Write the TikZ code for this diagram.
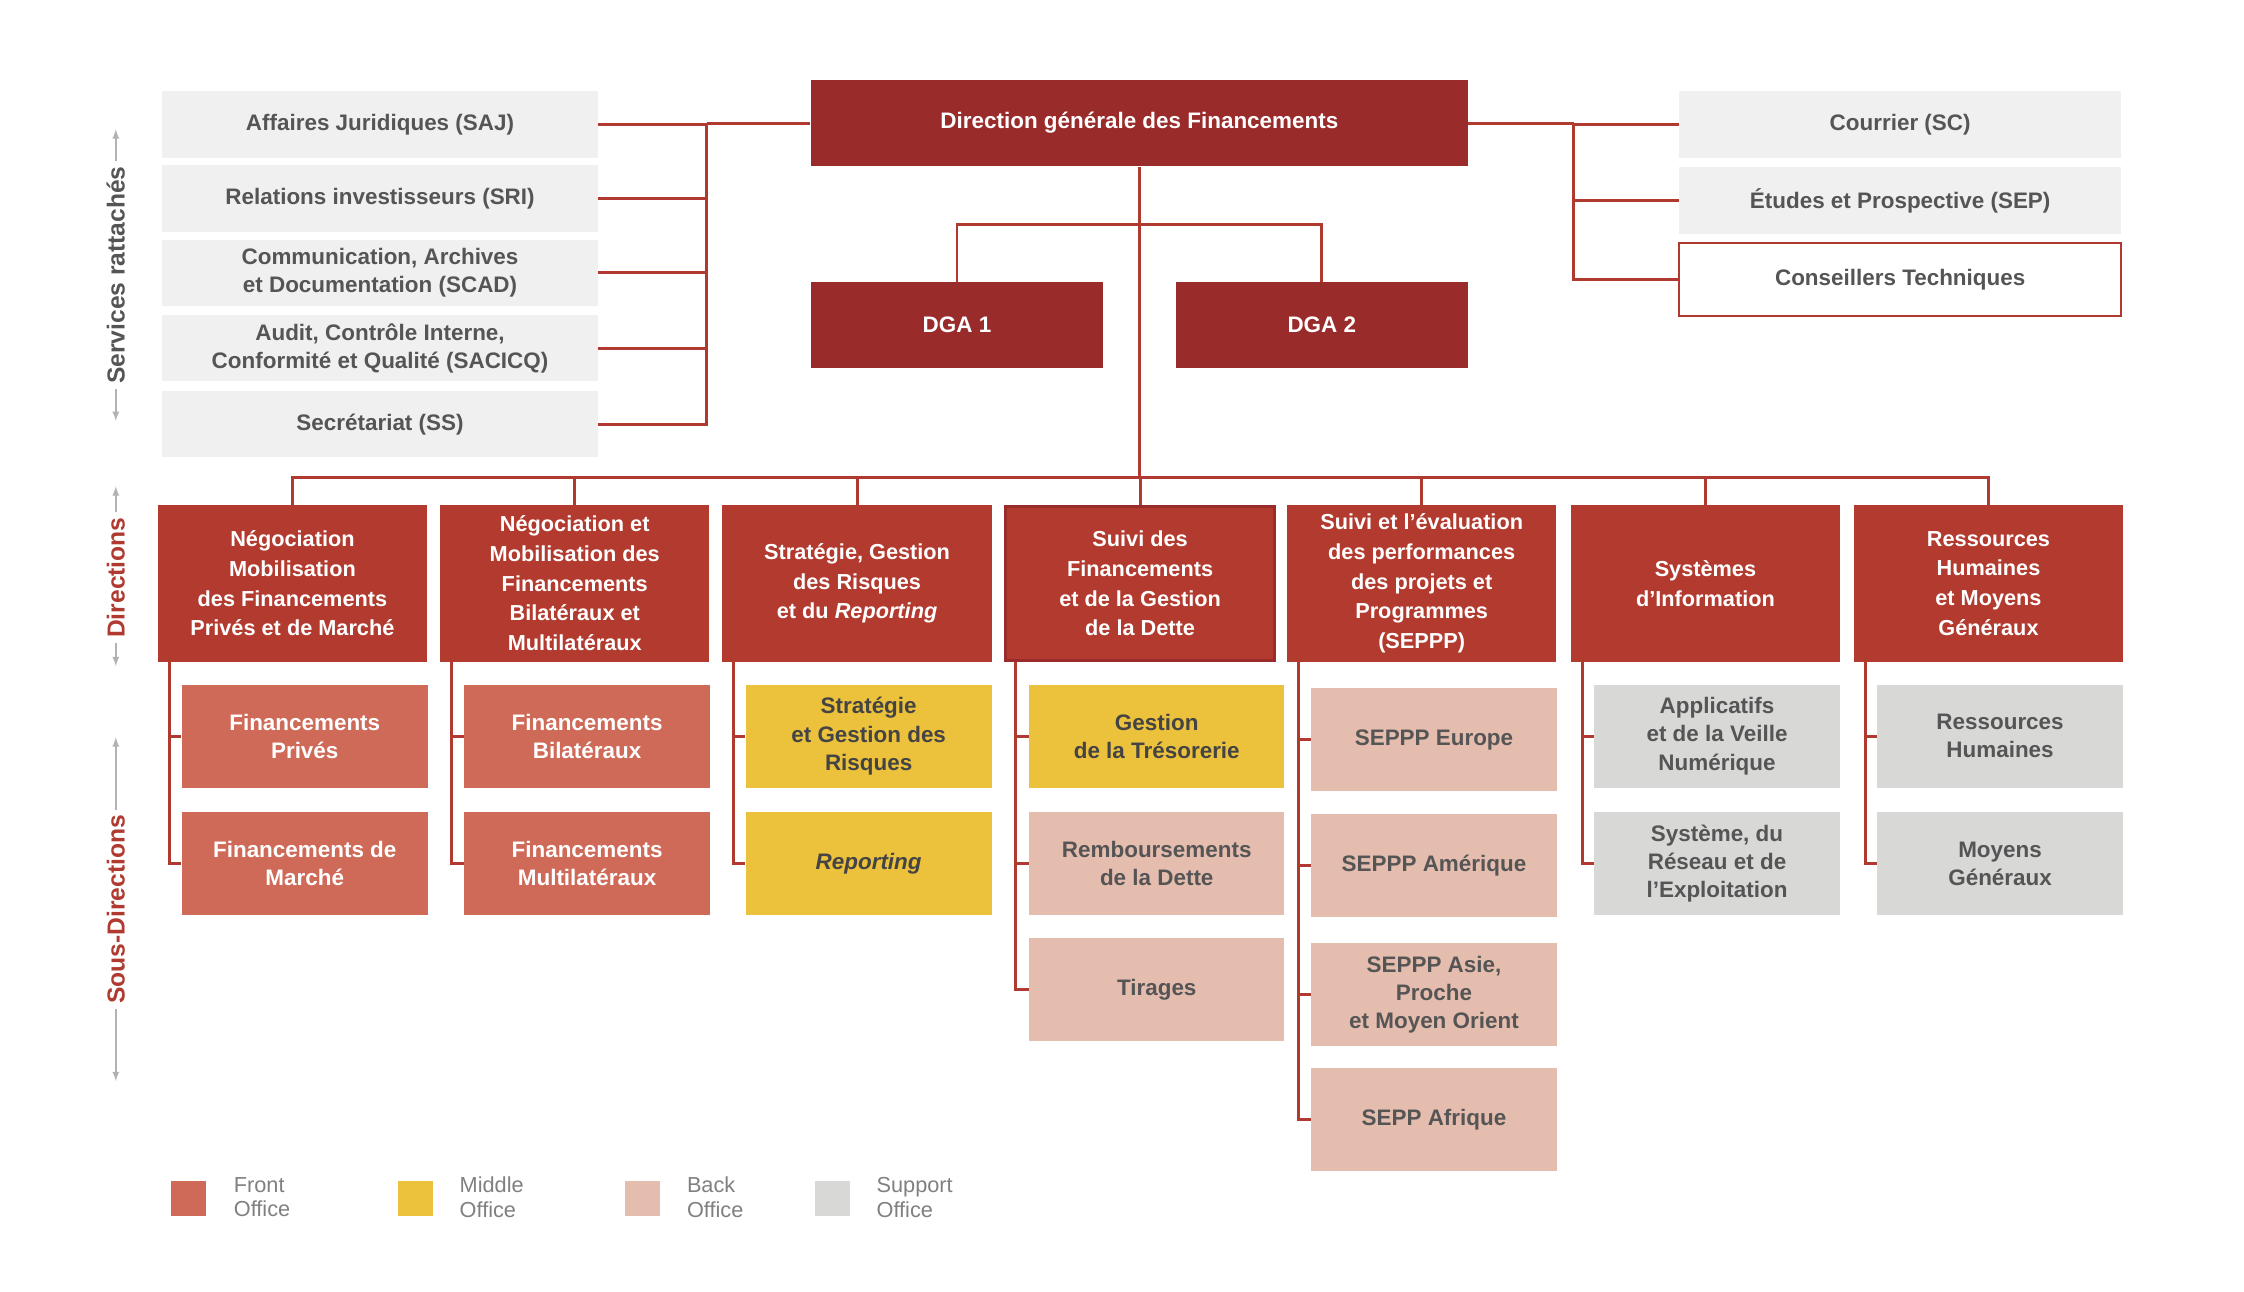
\documentclass[tikz,border=0pt]{standalone}
\usepackage{fontspec}
\setmainfont{Liberation Sans}
\begin{document}
\definecolor{dg}{HTML}{9A2B2B}
\definecolor{dir}{HTML}{B23A2E}
\definecolor{front}{HTML}{D06A58}
\definecolor{mid}{HTML}{ECC13C}
\definecolor{back}{HTML}{E5BDAE}
\definecolor{supp}{HTML}{D8D8D7}
\definecolor{serv}{HTML}{F0F0F0}
\definecolor{txt}{HTML}{555555}
\definecolor{ln}{HTML}{B03A30}
\begin{tikzpicture}[x=1pt,y=-1pt,
  box/.style={draw=none,minimum width=#1,inner sep=1pt,align=center,font=\fontsize{15.5}{19.5}\selectfont\bfseries},
  top/.style={box=454pt,minimum height=60pt,fill=dg,text=white},
  dga/.style={box=202pt,minimum height=59pt,fill=dg,text=white},
  sv/.style={box=301pt,minimum height=46pt,fill=serv,text=txt},
  rs/.style={box=305pt,minimum height=46pt,fill=serv,text=txt},
  dr/.style={box=186pt,minimum height=108pt,fill=dir,text=white,font=\fontsize{15}{20.5}\selectfont\bfseries},
  fo/.style={box=170pt,minimum height=71pt,fill=front,text=white},
  mo/.style={box=170pt,minimum height=71pt,fill=mid,text=txt!80!black},
  bo/.style={box=170pt,minimum height=71pt,fill=back,text=txt},
  so/.style={box=170pt,minimum height=71pt,fill=supp,text=txt},
  cn/.style={draw=ln,line width=2pt},
  ar/.style={draw=gray!60,line width=1.2pt,-latex},
  side/.style={rotate=90,font=\fontsize{17}{20}\selectfont\bfseries},
  lg/.style={anchor=west,align=left,text=gray,font=\fontsize{15}{17}\selectfont}]
\useasboundingbox (0,0) rectangle (1550,892);
\fill[white] (0,0) rectangle (1550,892);
% top
\node[top] (dg) at (787,85) {Direction générale des Financements};
\node[dga] (dga1) at (661,224.5) {DGA 1};
\node[dga] (dga2) at (913,224.5) {DGA 2};
% services
\node[sv] (saj) at (262.5,86) {Affaires Juridiques (SAJ)};
\node[sv] (sri) at (262.5,137) {Relations investisseurs (SRI)};
\node[sv] (scad) at (262.5,188.5) {Communication, Archives\\et Documentation (SCAD)};
\node[sv] (sac) at (262.5,240.5) {Audit, Contrôle Interne,\\Conformité et Qualité (SACICQ)};
\node[sv] (ss) at (262.5,293) {Secrétariat (SS)};
\node[rs] (sc) at (1312.5,86) {Courrier (SC)};
\node[rs] (sep) at (1312.5,138.5) {Études et Prospective (SEP)};
\node[rs,fill=white,draw=ln,line width=1.5pt,minimum height=50pt] (ct) at (1312.5,193) {Conseillers Techniques};
% directions
\node[dr] (d1) at (202,403) {Négociation\\Mobilisation\\des Financements\\Privés et de Marché};
\node[dr] (d2) at (397,403) {Négociation et\\Mobilisation des\\Financements\\Bilatéraux et\\Multilatéraux};
\node[dr] (d3) at (592,403) {Stratégie, Gestion\\des Risques\\et du \textit{Reporting}};
\node[dr,draw=dg,line width=2pt,minimum width=186pt,minimum height=106pt] (d4) at (787.5,403) {Suivi des\\Financements\\et de la Gestion\\de la Dette};
\node[dr] (d5) at (982,403) {Suivi et l'évaluation\\des performances\\des projets et\\Programmes\\(SEPPP)};
\node[dr] (d6) at (1178,403) {Systèmes\\d'Information};
\node[dr] (d7) at (1373.5,403) {Ressources\\Humaines\\et Moyens\\Généraux};
% sub-directions
\node[fo] (s11) at (210.5,508.5) {Financements\\Privés};
\node[fo] (s12) at (210.5,596.5) {Financements de\\Marché};
\node[fo] (s21) at (405.5,508.5) {Financements\\Bilatéraux};
\node[fo] (s22) at (405.5,596.5) {Financements\\Multilatéraux};
\node[mo] (s31) at (600,508.5) {Stratégie\\et Gestion des\\Risques};
\node[mo] (s32) at (600,596.5) {\textit{Reporting}};
\node[mo,minimum width=176pt] (s41) at (799,508.5) {Gestion\\de la Trésorerie};
\node[bo,minimum width=176pt] (s42) at (799,596.5) {Remboursements\\de la Dette};
\node[bo,minimum width=176pt] (s43) at (799,683.5) {Tirages};
\node[bo] (s51) at (990.5,511) {SEPPP Europe};
\node[bo] (s52) at (990.5,598) {SEPPP Amérique};
\node[bo] (s53) at (990.5,687) {SEPPP Asie,\\Proche\\et Moyen Orient};
\node[bo] (s54) at (990.5,773.5) {SEPP Afrique};
\node[so] (s61) at (1186,508.5) {Applicatifs\\et de la Veille\\Numérique};
\node[so] (s62) at (1186,596.5) {Système, du\\Réseau et de\\l'Exploitation};
\node[so] (s71) at (1381.5,508.5) {Ressources\\Humaines};
\node[so] (s72) at (1381.5,596.5) {Moyens\\Généraux};
% connectors
\coordinate (lb) at (488,85);
\coordinate (rb) at (1087,85);
\draw[cn] (dg.west) -- (lb);
\foreach \n in {saj,sri,scad,sac,ss} \draw[cn] (\n.east) -| (lb);
\draw[cn] (dg.east) -- (rb);
\foreach \n in {sc,sep,ct} \draw[cn] (\n.west) -| (rb);
\coordinate (db) at (787,155);
\draw[cn] (dg.south) -- (787,330);
\draw[cn] (dga1.north) |- (db) -| (dga2.north);
\coordinate (bar) at (787,330);
\foreach \n in {d1,d2,d3,d4,d5,d6,d7} \draw[cn] (\n.north) |- (bar);
\foreach \d/\s in {d1/s11,d1/s12,d2/s21,d2/s22,d3/s31,d3/s32,d4/s41,d4/s42,d4/s43,d5/s51,d5/s52,d5/s53,d5/s54,d6/s61,d6/s62,d7/s71,d7/s72}
  \draw[cn] ([xshift=8pt]\d.south west) |- (\s.west);
% side labels
\node[side,text=txt] (l1) at (80,190) {Services rattachés};
\node[side,text=ln] (l2) at (80,399) {Directions};
\node[side,text=ln] (l3) at (80,628) {Sous-Directions};
\draw[ar] (l1.east) -- ++(0,-22);
\draw[ar] (l1.west) -- ++(0,22);
\draw[ar] (l2.east) -- ++(0,-18);
\draw[ar] (l2.west) -- ++(0,16);
\draw[ar] (l3.east) -- ++(0,-50);
\draw[ar] (l3.west) -- ++(0,50);
% legend
\node[fill=front,minimum size=24pt,inner sep=0] (k1) at (130,828) {};
\node[fill=mid,minimum size=24pt,inner sep=0] (k2) at (287,828) {};
\node[fill=back,minimum size=24pt,inner sep=0] (k3) at (444,828) {};
\node[fill=supp,minimum size=24pt,inner sep=0] (k4) at (575,828) {};
\node[lg] at (158,827) {Front\\Office};
\node[lg] at (314,827) {Middle\\Office};
\node[lg] at (471,827) {Back\\Office};
\node[lg] at (602,827) {Support\\Office};
\end{tikzpicture}
\end{document}
